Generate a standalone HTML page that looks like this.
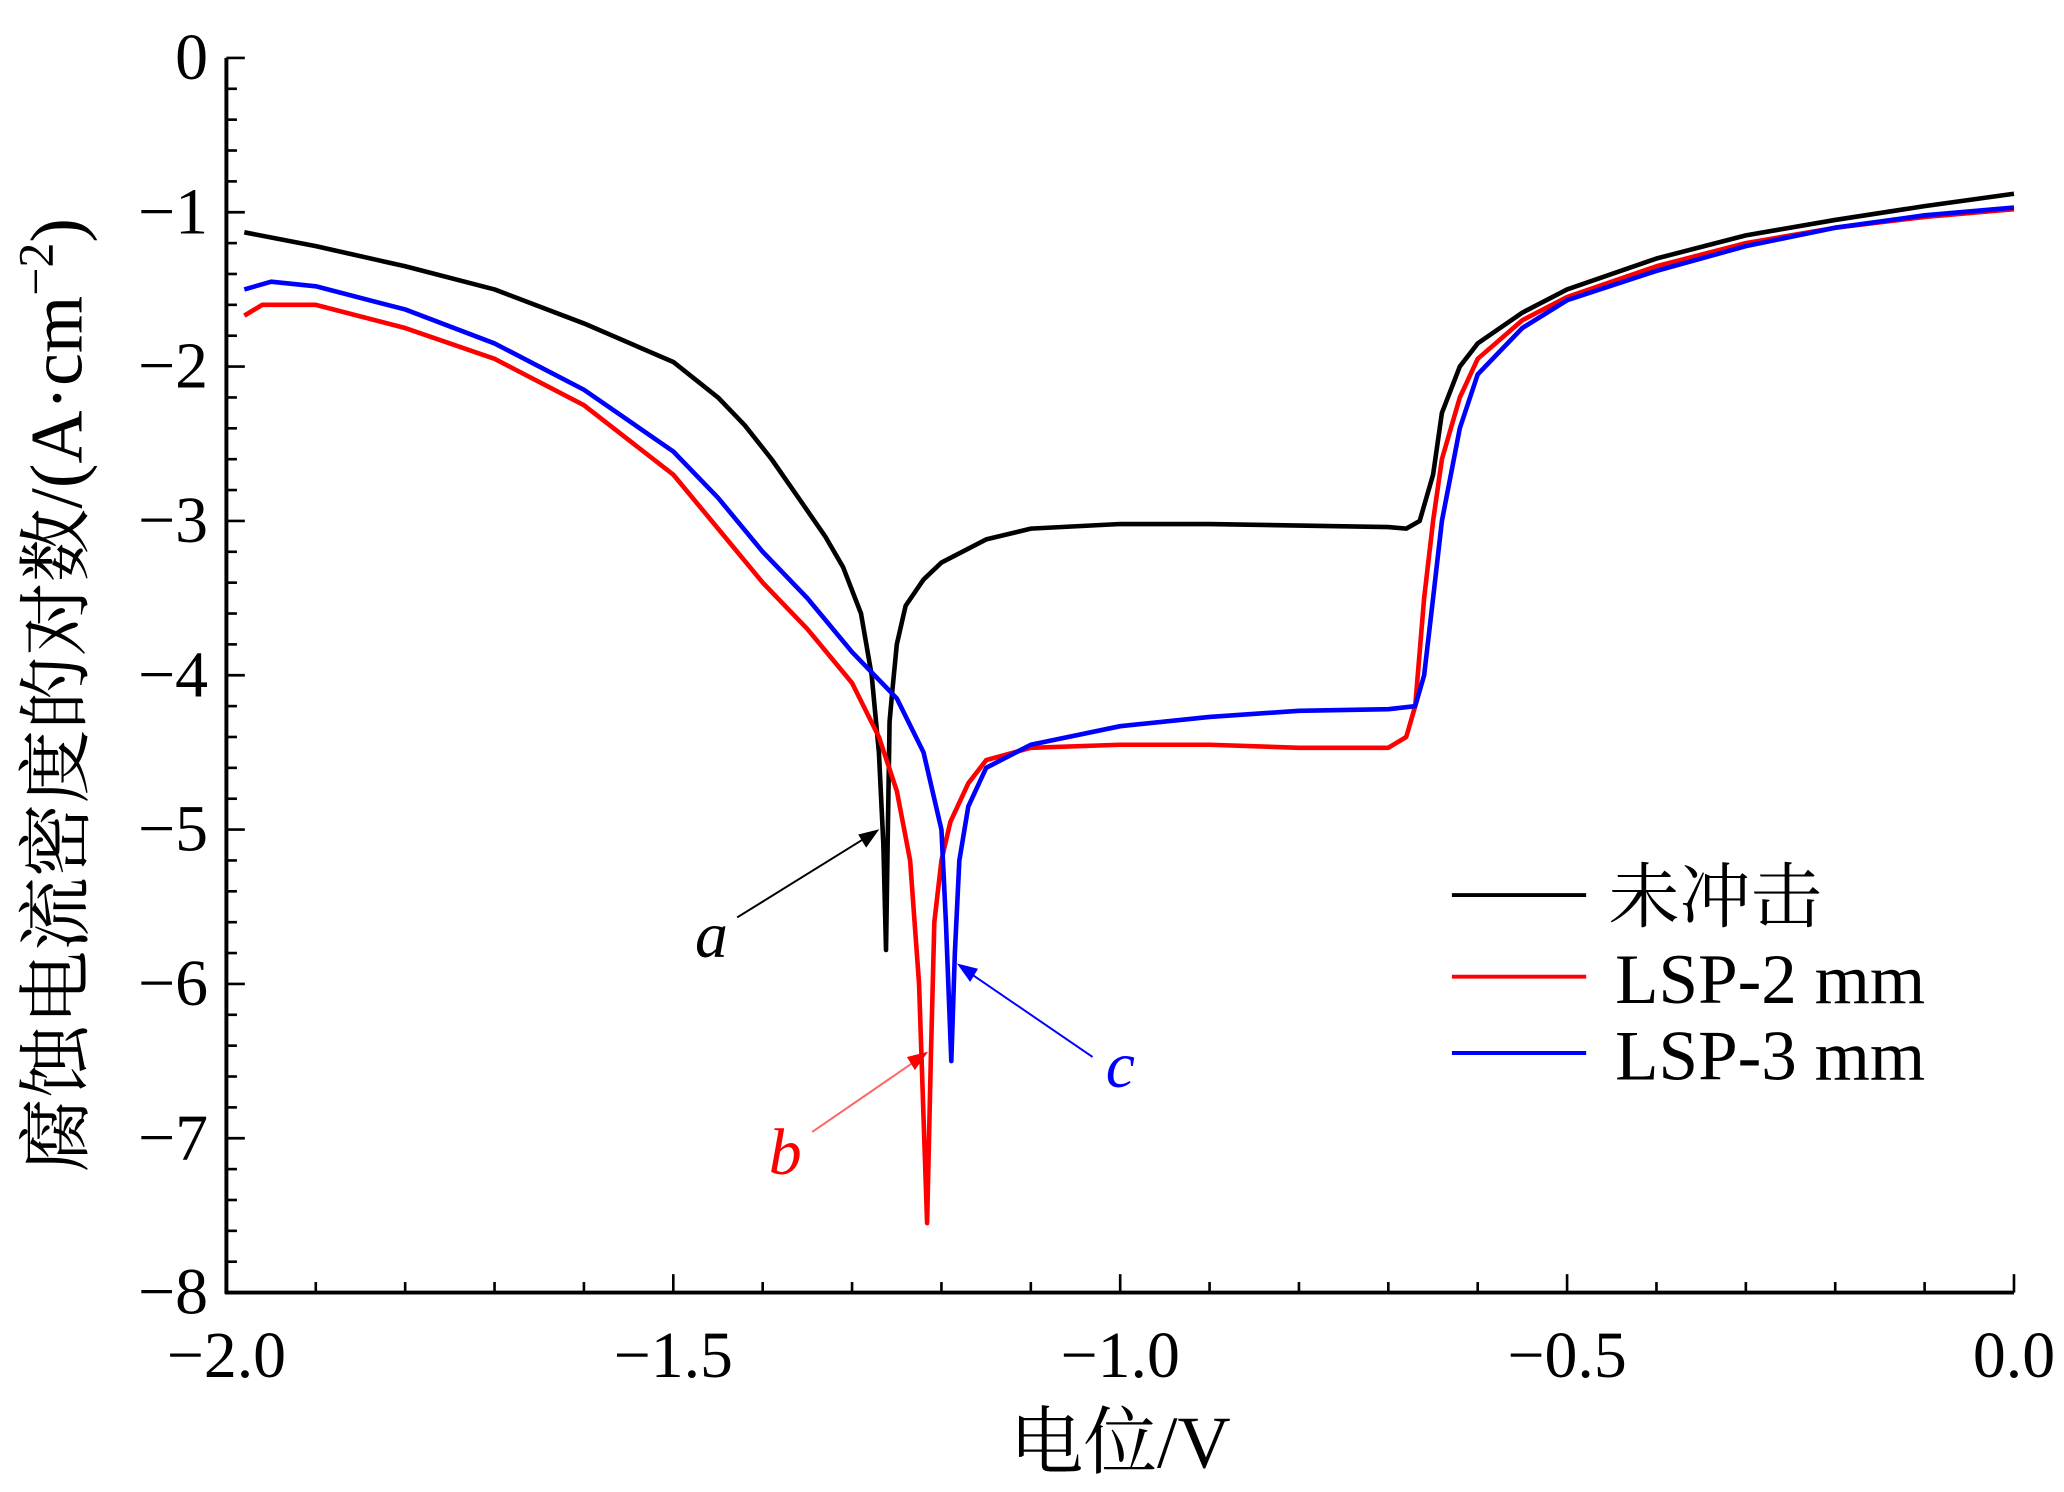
<!DOCTYPE html>
<html><head><meta charset="utf-8"><style>
html,body{margin:0;padding:0;background:#fff}
svg{display:block}
text{font-family:"Liberation Serif","Noto Serif CJK SC",serif;fill:#000}
</style></head><body>
<svg id="chart" width="2064" height="1492" viewBox="0 0 1568 1133.5" preserveAspectRatio="none" xmlns="http://www.w3.org/2000/svg">
<g id="axes"></g>
<g id="series"></g>
<g>
<line x1="1103" y1="680" x2="1205" y2="680" stroke="#000" stroke-width="3"/>
<text x="1222" y="700" font-size="54">未冲击</text>
<line x1="1103" y1="742" x2="1205" y2="742" stroke="#f00" stroke-width="3"/>
<text x="1227" y="762" font-size="54">LSP-2 mm</text>
<line x1="1103" y1="800" x2="1205" y2="800" stroke="#00f" stroke-width="3"/>
<text x="1227" y="820" font-size="54">LSP-3 mm</text>
</g>
<g>
<text x="528" y="727" font-size="50" font-style="italic">a</text>
<line x1="560" y1="697" x2="660" y2="635" stroke="#000" stroke-width="1.5"/>
<polygon points="668,630 652,634 658,644" fill="#000"/>
<text x="584" y="892" font-size="50" font-style="italic" style="fill:#f00">b</text>
<line x1="617" y1="860" x2="697" y2="805" stroke="#f66" stroke-width="1.5"/>
<polygon points="705,799 689,803 695,813" fill="#f00"/>
<text x="840" y="826" font-size="50" font-style="italic" style="fill:#00f">c</text>
<line x1="830" y1="803" x2="735" y2="738" stroke="#00f" stroke-width="1.5"/>
<polygon points="727,732 737,746 743,736" fill="#00f"/>
</g>
<text x="851" y="1115" font-size="56" text-anchor="middle">电位/V</text>
<text transform="translate(62,528) rotate(-90)" font-size="56" text-anchor="middle">腐蚀电流密度的对数/(A·cm<tspan dy="-22" font-size="38">−2</tspan><tspan dy="22">)</tspan></text>
</svg>
<script>
const xTicks=[-2.0,-1.5,-1.0,-0.5,0.0];
const xTickLabels=["−2.0","−1.5","−1.0","−0.5","0.0"];
const yTicks=[0,-1,-2,-3,-4,-5,-6,-7,-8];
const yTickLabels=["0","−1","−2","−3","−4","−5","−6","−7","−8"];
const blackX=[-1.98,-1.9,-1.8,-1.7,-1.6,-1.5,-1.45,-1.42,-1.39,-1.36,-1.33,-1.31,-1.29,-1.278,-1.27,-1.265,-1.262,-1.26,-1.258,-1.255,-1.25,-1.24,-1.22,-1.2,-1.15,-1.1,-1.0,-0.9,-0.8,-0.7,-0.68,-0.665,-0.65,-0.64,-0.62,-0.6,-0.55,-0.5,-0.4,-0.3,-0.2,-0.1,0];
const blackY=[-1.13,-1.22,-1.35,-1.5,-1.72,-1.97,-2.2,-2.38,-2.6,-2.85,-3.1,-3.3,-3.6,-4.0,-4.5,-5.1,-5.78,-5.0,-4.3,-4.1,-3.8,-3.55,-3.38,-3.27,-3.12,-3.05,-3.02,-3.02,-3.03,-3.04,-3.05,-3.0,-2.7,-2.3,-2.0,-1.85,-1.65,-1.5,-1.3,-1.15,-1.05,-0.96,-0.88];
const redX=[-1.98,-1.96,-1.9,-1.8,-1.7,-1.6,-1.5,-1.45,-1.4,-1.35,-1.3,-1.27,-1.25,-1.235,-1.225,-1.216,-1.212,-1.208,-1.2,-1.19,-1.17,-1.15,-1.1,-1.0,-0.9,-0.8,-0.7,-0.68,-0.67,-0.66,-0.65,-0.64,-0.62,-0.6,-0.55,-0.5,-0.4,-0.3,-0.2,-0.1,0];
const redY=[-1.67,-1.6,-1.6,-1.75,-1.95,-2.25,-2.7,-3.05,-3.4,-3.7,-4.05,-4.4,-4.75,-5.2,-6.0,-7.55,-6.5,-5.6,-5.2,-4.95,-4.7,-4.55,-4.47,-4.45,-4.45,-4.47,-4.47,-4.4,-4.2,-3.5,-3.0,-2.6,-2.2,-1.95,-1.7,-1.55,-1.35,-1.2,-1.1,-1.03,-0.98];
const blueX=[-1.98,-1.95,-1.9,-1.8,-1.7,-1.6,-1.5,-1.45,-1.4,-1.35,-1.3,-1.25,-1.22,-1.2,-1.195,-1.189,-1.185,-1.18,-1.17,-1.15,-1.1,-1.0,-0.9,-0.8,-0.7,-0.67,-0.66,-0.65,-0.64,-0.62,-0.6,-0.55,-0.5,-0.4,-0.3,-0.2,-0.1,0];
const blueY=[-1.5,-1.45,-1.48,-1.63,-1.85,-2.15,-2.55,-2.85,-3.2,-3.5,-3.85,-4.15,-4.5,-5.0,-5.6,-6.5,-5.8,-5.2,-4.85,-4.6,-4.45,-4.33,-4.27,-4.23,-4.22,-4.2,-4.0,-3.5,-3.0,-2.4,-2.05,-1.75,-1.57,-1.38,-1.22,-1.1,-1.02,-0.97];
const NS="http://www.w3.org/2000/svg";
const X0=172,X1=1530,Y0=44,Y1=982;
function sx(v){return X0+(v+2)/2*(X1-X0);}
function sy(v){return Y0-v/8*(Y1-Y0);}
const axes=document.getElementById('axes');
function mk(tag,attrs,parent){const e=document.createElementNS(NS,tag);for(const k in attrs)e.setAttribute(k,attrs[k]);parent.appendChild(e);return e;}
let l=mk('line',{x1:X0,y1:Y0,x2:X0,y2:Y1+1,stroke:'#000','stroke-width':3},axes);


l=mk('line',{x1:X0-1,y1:Y1,x2:X1,y2:Y1,stroke:'#000','stroke-width':3},axes);


for(let i=0;i<=20;i++){const v=-2+i*0.1;const major=i%5===0;
 const t=mk('line',{x1:sx(v),y1:Y1,x2:sx(v),y2:Y1-(major?14:8),stroke:'#000','stroke-width':2},axes);
 
 }
xTicks.forEach((v,i)=>{const t=mk('text',{x:sx(v),y:1046,'font-size':50,'text-anchor':'middle'},axes);t.textContent=xTickLabels[i];
 
 });
for(let i=0;i<=40;i++){const v=-i*0.2;const major=i%5===0;
 const t=mk('line',{x1:X0,y1:sy(v),x2:X0+(major?14:8),y2:sy(v),stroke:'#000','stroke-width':2},axes);
 
 }
yTicks.forEach((v,i)=>{const t=mk('text',{x:158,y:sy(v)+16,'font-size':50,'text-anchor':'end'},axes);t.textContent=yTickLabels[i];
 
 });
const ser=document.getElementById('series');
function draw(xs,ys,c,name){const d=xs.map((x,i)=>(i?'L':'M')+sx(x).toFixed(1)+' '+sy(ys[i]).toFixed(1)).join(' ');
 const p=mk('path',{d:d,fill:'none',stroke:c,'stroke-width':3.5,'stroke-linejoin':'round'},ser);
 
 }
draw(blackX,blackY,'#000','series-unpeened');
draw(redX,redY,'#f00','series-lsp-2mm');
draw(blueX,blueY,'#00f','series-lsp-3mm');
</script>
</body></html>
